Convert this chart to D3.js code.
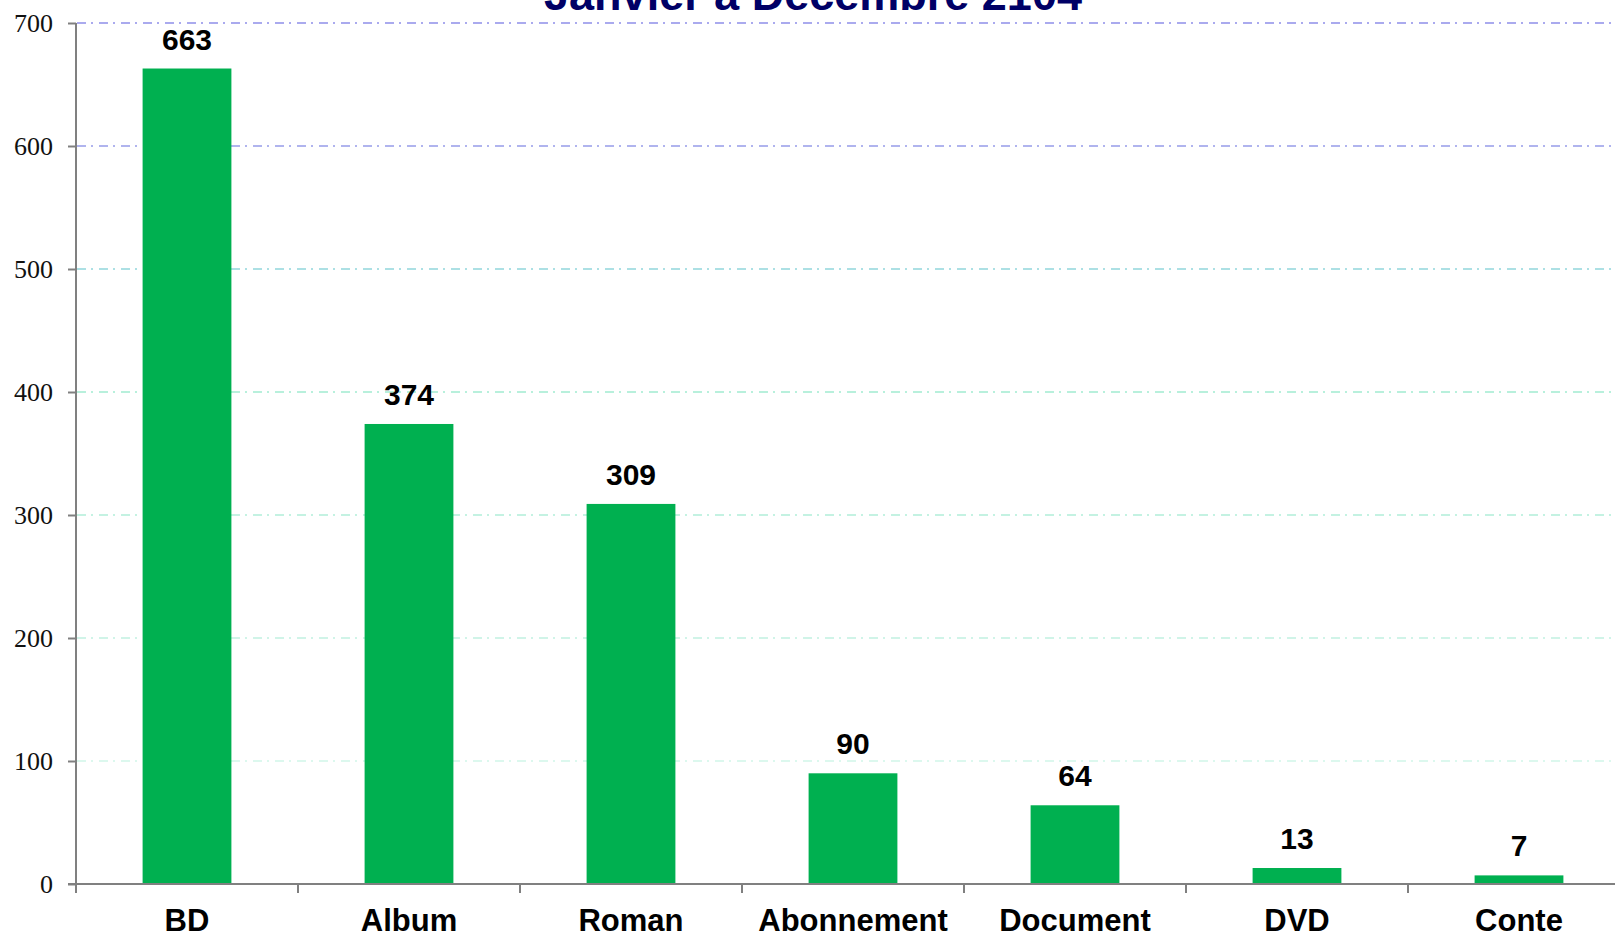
<html><head>
<style>
body { margin: 0; padding: 0; background: white; overflow: hidden; }
svg { display: block; }
</style>
</head>
<body>
<svg id="chart" width="1615" height="936"></svg>
<script src="https://d3js.org/d3.v7.min.js"></script>
<script>
const categories = ["BD", "Album", "Roman", "Abonnement", "Document", "DVD", "Conte"];
const values = [663, 374, 309, 90, 64, 13, 7];
const yTicks = [0, 100, 200, 300, 400, 500, 600, 700];
const gridColors = ["#dcf8ee", "#d0f4e8", "#c4f2e2", "#b8f0dc", "#ace0e4", "#b0b4ee", "#aaaaee"];
const title = "Janvier à Décembre 2104";

const svg = d3.select("#chart");
// the plot runs past the right edge of the picture, as in the reference
const mLeft = 76, mRight = 76 + 7 * 222, mTop = 23, mBottom = 884;

const x = d3.scaleBand().domain(categories).range([mLeft, mRight]).paddingInner(0.6).paddingOuter(0.3);
const xEdge = d3.scaleLinear().domain([0, categories.length]).range([mLeft, mRight]);
const y = d3.scaleLinear().domain([0, 700]).range([mBottom, mTop]);

// grid
svg.append("g").selectAll("line")
  .data(yTicks.filter(d => d > 0))
  .join("line")
  .attr("x1", mLeft + 1).attr("x2", 1615)
  .attr("y1", d => y(d)).attr("y2", d => y(d))
  .attr("stroke", (d, i) => gridColors[i])
  .attr("stroke-width", 2)
  .attr("stroke-dasharray", "9,5,2,6");

// bars
svg.append("g").selectAll("rect")
  .data(values)
  .join("rect")
  .attr("x", (d, i) => x(categories[i]))
  .attr("width", x.bandwidth())
  .attr("y", d => y(d))
  .attr("height", d => mBottom - y(d))
  .attr("fill", "#00b050");

// value labels
svg.append("g").selectAll("text")
  .data(values)
  .join("text")
  .attr("x", (d, i) => x(categories[i]) + x.bandwidth() / 2)
  .attr("y", d => y(d) - 19)
  .attr("text-anchor", "middle")
  .attr("font-family", "Liberation Sans, Arial, sans-serif")
  .attr("font-weight", "bold")
  .attr("font-size", 30)
  .attr("fill", "#000")
  .text(d => d);

// y axis
const yAxis = svg.append("g")
  .attr("transform", `translate(${mLeft},0)`)
  .call(d3.axisLeft(y).tickValues(yTicks).tickSize(8).tickPadding(15));
yAxis.select(".domain").attr("stroke", "#808080").attr("stroke-width", 2).attr("d", `M0,${mTop}V${mBottom}`);
yAxis.selectAll(".tick line").attr("stroke", "#808080").attr("stroke-width", 2);
yAxis.selectAll(".tick text")
  .attr("font-family", "Liberation Serif, Times New Roman, serif")
  .attr("font-size", 26)
  .attr("fill", "#111");

// x axis
svg.append("line")
  .attr("x1", mLeft - 8).attr("x2", 1615)
  .attr("y1", mBottom).attr("y2", mBottom)
  .attr("stroke", "#808080").attr("stroke-width", 2);
svg.append("g").selectAll("line")
  .data(d3.range(categories.length))
  .join("line")
  .attr("x1", d => xEdge(d)).attr("x2", d => xEdge(d))
  .attr("y1", mBottom).attr("y2", mBottom + 9)
  .attr("stroke", "#808080").attr("stroke-width", 2);

svg.append("g").selectAll("text")
  .data(categories)
  .join("text")
  .attr("x", d => x(d) + x.bandwidth() / 2)
  .attr("y", 931)
  .attr("text-anchor", "middle")
  .attr("font-family", "Liberation Sans, Arial, sans-serif")
  .attr("font-weight", "bold")
  .attr("font-size", 31)
  .attr("fill", "#000")
  .text(d => d);

// title (partly cut off at the top, as in the reference)
svg.append("text")
  .attr("x", 813)
  .attr("y", 10)
  .attr("text-anchor", "middle")
  .attr("font-family", "Liberation Sans, Arial, sans-serif")
  .attr("font-weight", "bold")
  .attr("font-size", 45)
  .attr("fill", "#000066")
  .text(title);
</script>
</body>
</html>
